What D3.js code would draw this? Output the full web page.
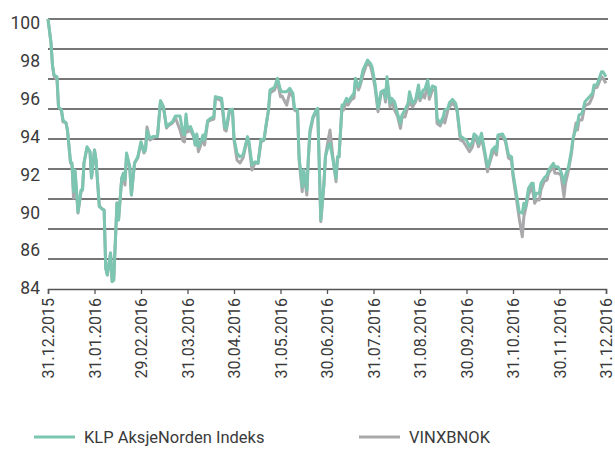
<!DOCTYPE html>
<html>
<head>
<meta charset="utf-8">
<script src="https://cdn.jsdelivr.net/npm/d3@7"></script>
<style>
  html, body { margin: 0; padding: 0; background: #fff; }
  svg text { font-family: Roboto, "Open Sans", sans-serif; font-weight: 400; fill: #3a3a3a; }
</style>
</head>
<body>
<svg id="chart" width="615" height="449"></svg>
<script>
// month ends shown on the x axis
const xTickLabels = ["31.12.2015", "31.01.2016", "29.02.2016", "31.03.2016", "30.04.2016", "31.05.2016",
  "30.06.2016", "31.07.2016", "31.08.2016", "30.09.2016", "31.10.2016", "30.11.2016", "31.12.2016"];

// y labels as printed on the original (88 is missing there too)
const yTickLabels = ["100", "98", "96", "94", "92", "90", "86", "84"];

const seriesNames = ["KLP AksjeNorden Indeks", "VINXBNOK"];

const dates = [
  "2015-12-31","2016-01-02","2016-01-03","2016-01-04","2016-01-06","2016-01-07","2016-01-09","2016-01-10","2016-01-12","2016-01-13",
  "2016-01-15","2016-01-16","2016-01-17","2016-01-18","2016-01-19","2016-01-20","2016-01-22","2016-01-23","2016-01-24","2016-01-26",
  "2016-01-28","2016-01-29","2016-01-31","2016-02-01","2016-02-02","2016-02-03","2016-02-05","2016-02-06","2016-02-07","2016-02-08",
  "2016-02-10","2016-02-11","2016-02-12","2016-02-14","2016-02-15","2016-02-17","2016-02-18","2016-02-19","2016-02-20","2016-02-22",
  "2016-02-23","2016-02-25","2016-02-27","2016-02-29","2016-03-02","2016-03-03","2016-03-04","2016-03-06","2016-03-08","2016-03-11",
  "2016-03-13","2016-03-15","2016-03-17","2016-03-18","2016-03-21","2016-03-23","2016-03-26","2016-03-28","2016-03-29","2016-03-30",
  "2016-03-31","2016-04-02","2016-04-04","2016-04-05","2016-04-06","2016-04-07","2016-04-09","2016-04-10","2016-04-11","2016-04-13",
  "2016-04-15","2016-04-17","2016-04-18","2016-04-22","2016-04-24","2016-04-25","2016-04-27","2016-04-29","2016-04-30","2016-05-02",
  "2016-05-04","2016-05-06","2016-05-09","2016-05-10","2016-05-12","2016-05-14","2016-05-16","2016-05-18","2016-05-20","2016-05-21",
  "2016-05-23","2016-05-24","2016-05-27","2016-05-29","2016-05-31","2016-06-01","2016-06-04","2016-06-06","2016-06-08","2016-06-09",
  "2016-06-11","2016-06-12","2016-06-14","2016-06-15","2016-06-17","2016-06-18","2016-06-19","2016-06-21","2016-06-23","2016-06-24",
  "2016-06-26","2016-06-28","2016-06-29","2016-07-01","2016-07-02","2016-07-04","2016-07-06","2016-07-07","2016-07-08","2016-07-10",
  "2016-07-11","2016-07-13","2016-07-14","2016-07-16","2016-07-18","2016-07-19","2016-07-21","2016-07-22","2016-07-24","2016-07-26",
  "2016-07-27","2016-07-29","2016-07-30","2016-08-01","2016-08-03","2016-08-05","2016-08-07","2016-08-08","2016-08-09","2016-08-11",
  "2016-08-12","2016-08-14","2016-08-16","2016-08-18","2016-08-19","2016-08-21","2016-08-23","2016-08-24","2016-08-26","2016-08-28",
  "2016-08-30","2016-08-31","2016-09-02","2016-09-03","2016-09-05","2016-09-06","2016-09-08","2016-09-10","2016-09-11","2016-09-13",
  "2016-09-15","2016-09-16","2016-09-18","2016-09-19","2016-09-21","2016-09-23","2016-09-24","2016-09-26","2016-09-28","2016-09-30",
  "2016-10-02","2016-10-04","2016-10-05","2016-10-07","2016-10-08","2016-10-10","2016-10-12","2016-10-14","2016-10-15","2016-10-17",
  "2016-10-19","2016-10-20","2016-10-21","2016-10-24","2016-10-26","2016-10-28","2016-10-30","2016-10-31","2016-11-02","2016-11-04",
  "2016-11-06","2016-11-07","2016-11-08","2016-11-10","2016-11-12","2016-11-13","2016-11-14","2016-11-15","2016-11-17","2016-11-18",
  "2016-11-20","2016-11-22","2016-11-23","2016-11-26","2016-11-27","2016-11-29","2016-12-01","2016-12-03","2016-12-04","2016-12-06",
  "2016-12-08","2016-12-09","2016-12-11","2016-12-12","2016-12-13","2016-12-15","2016-12-17","2016-12-18","2016-12-20","2016-12-22",
  "2016-12-23","2016-12-25","2016-12-28","2016-12-29","2016-12-31"
];

const klp = [
  100.00, 98.58, 97.27, 96.68, 96.58, 94.80, 94.61, 94.01, 93.85, 93.42,
  91.54, 91.47, 89.77, 91.05, 89.87, 88.58, 89.87, 89.87, 91.47, 92.43,
  92.14, 90.58, 92.24, 91.64, 90.28, 88.88, 88.72, 88.68, 85.24, 84.83,
  86.13, 84.43, 84.53, 89.10, 88.09, 90.58, 90.87, 90.46, 92.06, 91.25,
  89.57, 91.47, 91.84, 92.73, 92.14, 92.24, 93.38, 92.93, 93.03, 93.03,
  95.16, 94.80, 93.62, 93.72, 93.91, 94.25, 94.25, 93.23, 93.13, 94.37,
  93.52, 93.62, 93.13, 92.53, 93.19, 92.43, 92.83, 93.13, 92.83, 93.97,
  94.12, 94.21, 95.40, 95.30, 93.62, 93.52, 94.61, 94.65, 92.93, 92.04,
  91.84, 91.94, 93.03, 92.73, 91.35, 91.54, 91.45, 92.87, 92.83, 93.52,
  94.61, 95.79, 95.95, 96.49, 95.79, 95.69, 95.69, 95.89, 95.60, 94.71,
  94.61, 91.84, 90.06, 91.05, 89.87, 91.84, 93.42, 94.21, 94.61, 94.71,
  88.09, 90.26, 91.84, 92.53, 92.63, 91.64, 90.56, 91.84, 91.84, 94.90,
  94.90, 95.30, 95.10, 95.36, 95.60, 96.49, 95.99, 96.19, 96.98, 97.37,
  97.57, 97.37, 97.17, 96.19, 94.71, 95.69, 95.79, 95.30, 96.58, 95.00,
  95.30, 95.10, 94.41, 93.82, 94.31, 94.61, 95.00, 95.69, 95.00, 95.20,
  96.09, 95.30, 95.79, 95.79, 96.39, 95.50, 96.03, 95.95, 94.12, 93.82,
  94.21, 94.61, 94.71, 95.04, 95.24, 95.00, 94.61, 93.07, 92.93, 92.83,
  92.43, 92.73, 93.19, 93.03, 92.63, 93.23, 92.24, 91.25, 91.45, 92.24,
  92.43, 92.14, 93.13, 93.19, 92.83, 91.94, 91.84, 90.86, 89.77, 88.58,
  88.49, 89.08, 88.78, 89.97, 90.26, 90.26, 89.37, 89.67, 89.67, 90.26,
  90.56, 90.76, 91.05, 91.45, 91.25, 91.25, 90.95, 90.26, 90.76, 91.25,
  92.24, 92.93, 93.52, 93.82, 94.31, 94.41, 95.10, 95.20, 95.40, 95.60,
  96.09, 96.09, 96.88, 96.88, 96.58
];

const vinx = [
  100.00, 98.58, 97.21, 96.62, 96.39, 94.79, 94.55, 93.90, 93.84, 93.36,
  91.47, 91.35, 89.39, 90.93, 89.75, 88.50, 89.75, 89.87, 91.47, 92.36,
  92.12, 90.58, 92.24, 91.53, 90.22, 88.92, 88.74, 88.68, 85.24, 84.83,
  86.13, 84.47, 84.53, 89.10, 88.09, 90.58, 90.76, 90.16, 91.94, 91.17,
  89.57, 91.47, 91.76, 92.65, 92.06, 92.24, 93.60, 92.83, 92.95, 93.07,
  95.14, 94.73, 93.54, 93.66, 93.84, 94.13, 93.42, 92.77, 92.71, 94.13,
  93.30, 93.42, 93.01, 92.53, 93.07, 92.14, 92.65, 93.01, 92.53, 93.90,
  94.01, 94.07, 95.32, 95.14, 93.42, 93.36, 94.43, 94.61, 92.83, 91.64,
  91.47, 91.76, 92.95, 92.53, 91.05, 91.47, 91.45, 92.71, 92.83, 93.42,
  94.61, 95.61, 95.79, 96.27, 95.40, 95.44, 94.90, 95.67, 95.38, 94.61,
  94.49, 91.64, 89.77, 90.93, 89.57, 91.76, 93.24, 94.13, 94.49, 94.61,
  87.99, 90.16, 91.88, 92.95, 93.42, 91.76, 90.36, 91.76, 91.82, 94.73,
  94.61, 95.14, 94.90, 95.20, 95.32, 96.39, 95.79, 96.03, 96.68, 97.21,
  97.37, 97.21, 96.86, 95.97, 94.51, 95.56, 95.67, 95.08, 96.39, 94.79,
  95.20, 94.61, 94.25, 93.52, 94.19, 94.19, 94.84, 95.10, 94.79, 95.08,
  95.67, 95.16, 95.56, 95.32, 96.15, 95.24, 95.79, 95.79, 93.82, 93.66,
  94.13, 93.84, 94.61, 94.79, 95.02, 94.79, 94.49, 92.83, 92.73, 92.43,
  92.14, 92.43, 92.95, 92.73, 92.43, 92.95, 92.06, 90.95, 91.35, 91.94,
  92.24, 91.94, 93.03, 93.07, 92.73, 91.76, 91.64, 90.70, 89.47, 88.19,
  87.10, 88.28, 88.68, 89.57, 90.06, 89.67, 89.08, 89.27, 89.27, 89.87,
  90.36, 90.46, 90.86, 91.25, 90.86, 90.86, 90.76, 89.47, 90.26, 91.05,
  92.04, 92.83, 93.84, 93.42, 94.01, 94.01, 94.90, 94.90, 95.00, 95.40,
  95.89, 95.95, 96.58, 96.49, 96.19
];

const colors = { klp: "#7cc5b0", vinx: "#a9a9ab" };

const svg = d3.select("#chart");

const plot = { left: 48, right: 606, top: 19, bottom: 289 };

const parseTick = d3.timeParse("%d.%m.%Y");
const parseDate = d3.timeParse("%Y-%m-%d");
const monthEnds = xTickLabels.map(parseTick);

// every month gets the same width on the original axis
const x = d3.scaleTime()
  .domain(monthEnds)
  .range(monthEnds.map((d, i) => plot.left + i * (plot.right - plot.left) / (monthEnds.length - 1)));

const y = d3.scaleLinear().domain([84, 100]).range([plot.bottom, plot.top]);

// gridlines are evenly spaced, 10 of them including the axis line
const grid = d3.scaleLinear().domain([0, 9]).range([plot.bottom, plot.top]);

const labelY = d3.scalePoint().domain(yTickLabels).range([23, 288]);

svg.append("g")
  .selectAll("line")
  .data(d3.range(1, 10))
  .join("line")
  .attr("x1", plot.left)
  .attr("x2", plot.right + 2)
  .attr("y1", d => grid(d))
  .attr("y2", d => grid(d))
  .attr("stroke", "#4a4a4a")
  .attr("stroke-width", 1.3);

svg.append("g")
  .selectAll("text")
  .data(yTickLabels)
  .join("text")
  .attr("x", 40)
  .attr("y", d => labelY(d))
  .attr("dy", "0.36em")
  .attr("text-anchor", "end")
  .style("font-size", "17.5px")
  .text(d => d);

// x axis
const xAxis = d3.axisBottom(x)
  .tickValues(monthEnds)
  .tickSize(5)
  .tickFormat((d, i) => xTickLabels[i]);

const gx = svg.append("g")
  .attr("transform", `translate(0,${plot.bottom})`)
  .call(xAxis);

gx.select(".domain").attr("stroke", "#555").attr("stroke-width", 1.5);
gx.selectAll(".tick line").attr("stroke", "#555").attr("stroke-width", 1.3);
gx.selectAll(".tick text")
  .attr("transform", "rotate(-90)")
  .attr("x", -9)
  .attr("y", 0)
  .attr("dy", "0.36em")
  .attr("text-anchor", "end")
  .style("font-size", "16px")
  .style("fill", "#3a3a3a");

// lines
const points = dates.map((d, i) => ({ date: parseDate(d), klp: klp[i], vinx: vinx[i] }));

const line = key => d3.line()
  .x(d => x(d.date))
  .y(d => y(d[key]));

svg.append("path")
  .datum(points)
  .attr("fill", "none")
  .attr("stroke", colors.vinx)
  .attr("stroke-width", 3)
  .attr("stroke-linejoin", "round")
  .attr("d", line("vinx"));

svg.append("path")
  .datum(points)
  .attr("fill", "none")
  .attr("stroke", colors.klp)
  .attr("stroke-width", 3)
  .attr("stroke-linejoin", "round")
  .attr("d", line("klp"));

// legend
const legend = [
  { name: seriesNames[0], color: colors.klp, x: 34 },
  { name: seriesNames[1], color: colors.vinx, x: 359 }
];

const lg = svg.append("g")
  .selectAll("g")
  .data(legend)
  .join("g")
  .attr("transform", d => `translate(${d.x},437)`);

lg.append("line")
  .attr("x1", 0)
  .attr("x2", 41)
  .attr("stroke", d => d.color)
  .attr("stroke-width", 3);

lg.append("text")
  .attr("x", 50)
  .attr("dy", "0.36em")
  .style("font-size", "16.5px")
  .text(d => d.name);
</script>
</body>
</html>
